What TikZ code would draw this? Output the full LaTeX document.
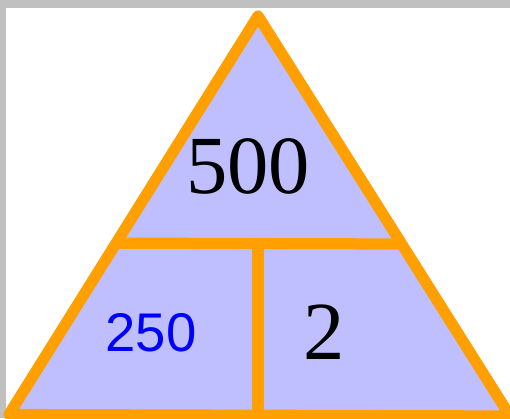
\documentclass[tikz,border=0pt]{standalone}
\usepackage{fontspec}
\setmainfont{Liberation Serif}
\newfontfamily\labelsans{Liberation Sans}
\usepackage{tikz}
\usetikzlibrary{calc}
\usepackage{xcolor}
\definecolor{edgeorange}{RGB}{255,160,0}
\definecolor{cellfill}{RGB}{191,191,255}
\definecolor{framegray}{RGB}{192,192,192}

\tikzset{
  edge/.style={edgeorange, line width=6.4pt, line join=round},
  bignum/.style={font=\fontsize{47}{47}\selectfont, text=black},
  smallnum/.style={font=\labelsans\fontsize{31}{31}\selectfont, text=blue},
}

\begin{document}
\begin{tikzpicture}
  % Frame
  \useasboundingbox (0,0) rectangle (10.2,8.36);
  \fill[framegray] (0,0) rectangle (10.2,8.36);
  \fill[white] (0.12,0) rectangle (10.2,8.2);

  % Corners of the triangle
  \coordinate (apex) at (5.16,8.04);
  \coordinate (bl) at (0.18,0.07);
  \coordinate (br) at (10.2,0.04);
  \coordinate (ml) at ($(bl)!0.43!(apex)$);
  \coordinate (mr) at ($(br)!0.43!(apex)$);
  \coordinate (mtop) at (5.16,0|-ml);
  \coordinate (mbot) at (5.16,0.06);

  % The triangle and its dividers
  \fill[cellfill] (apex) -- (bl) -- (br) -- cycle;
  \draw[edge] (ml) -- (mr);
  \draw[edge] (mtop) -- (mbot);
  \draw[edge] (apex) -- (bl) -- (br) -- cycle;

  % Numbers
  \node[bignum] (total) at (4.96,5.04) {500};
  \node[smallnum] (part) at (3.02,1.70) {250};
  \node[bignum] (factor) at (6.48,1.72) {2};
\end{tikzpicture}
\end{document}
